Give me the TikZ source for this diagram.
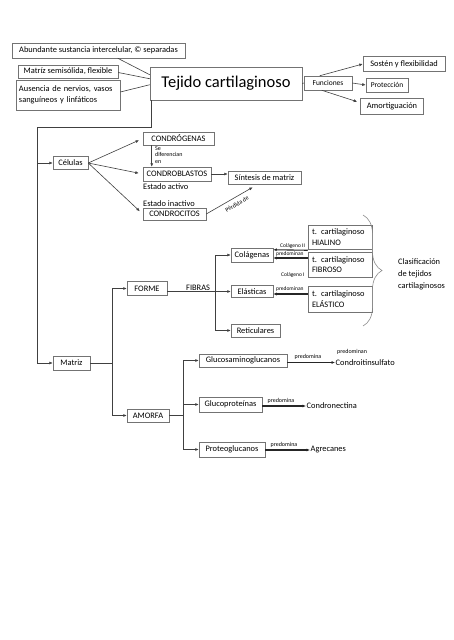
\documentclass[tikz,border=0pt]{standalone}
\usepackage{fontspec}
\setmainfont{Carlito}
\usetikzlibrary{arrows.meta,calc,decorations.pathreplacing}
\begin{document}
\begin{tikzpicture}[x=1pt,y=-1pt,
 bx/.style={draw=black!55, line width=0.5pt, inner sep=1pt, fill=white, font=\fontsize{8.4}{9}\selectfont, anchor=center},
 bx2/.style={bx, align=left, inner xsep=4pt, text width=56pt, font=\fontsize{8.4}{10.5}\selectfont},
 ln/.style={draw=black!75, line width=0.6pt},
 ar/.style={ln, -{Latex[length=3.5pt,width=3pt]}},
 thar/.style={draw=black!85, line width=1.1pt, -{Latex[length=3.5pt,width=3pt]}},
 tinylbl/.style={font=\fontsize{6}{6.8}\selectfont, inner sep=0pt},
 txt/.style={font=\fontsize{8.4}{9}\selectfont, inner sep=0pt},
]
\fill[white] (0,0) rectangle (453,640);
\useasboundingbox (0,0) rectangle (453,640);

% top boxes
\node[bx, minimum width=173, minimum height=15] (abund) at (98.5,50.5) {Abundante sustancia intercelular, © separadas};
\node[bx, minimum width=100, minimum height=13] (matr) at (68,71.5) {Matríz semisólida, flexible};
\node[bx, align=left, inner xsep=3pt, text width=98pt, minimum height=30, font=\fontsize{8.4}{11}\selectfont] (ausen) at (68,95) {Ausencia de nervios, vasos\\sanguíneos y linfáticos};
\node[bx, minimum width=152, minimum height=33, font=\fontsize{16.5}{18}\selectfont] (tej) at (226,83.5) {Tejido cartilaginoso};
\node[bx, minimum width=48, minimum height=14, font=\fontsize{7.5}{8}\selectfont] (func) at (328,83) {Funciones};
\node[bx, minimum width=82, minimum height=15] (sosten) at (404,64) {Sostén y flexibilidad};
\node[bx, minimum width=42, minimum height=14, font=\fontsize{7.5}{8}\selectfont] (protec) at (387,85) {Protección};
\node[bx, minimum width=63, minimum height=16] (amort) at (392,106) {Amortiguación};

\draw[ln] ($(abund.south west)+(106,0)$) -- ($(tej.north west)+(0,8)$);
\draw[ln] ($(matr.east)+(0,1)$) -- ($(tej.north west)+(0,12)$);
\draw[ln] ($(ausen.east)+(0,-3)$) -- ($(tej.north west)+(0,18)$);
\draw[ln] (tej.east) -- (func.west);
\draw[ar] ($(func.north west)+(16,0)$) -- (sosten.west);
\draw[ar] (func.east) -- (protec.west);
\draw[ar] ($(func.south west)+(18,0)$) -- ($(amort.north west)+(-3,4)$);

% cells
\node[bx, minimum width=35, minimum height=13] (cel) at (70.5,163) {Células};
\node[bx, minimum width=71, minimum height=13] (condrog) at (178.5,138.5) {CONDRÓGENAS};
\node[bx, minimum width=68, minimum height=14] (condrob) at (177,174) {CONDROBLASTOS};
\node[bx, minimum width=63, minimum height=12] (condroc) at (174.5,214) {CONDROCITOS};
\node[bx, minimum width=73, minimum height=13] (sint) at (264.5,177.5) {Síntesis de matriz};
\node[txt, anchor=west] (eact) at (143,187) {Estado activo};
\node[txt, anchor=west] (einact) at (143,203.5) {Estado inactivo};
\node[tinylbl, anchor=north west, align=left] (sedif) at (155,146) {Se\\diferencian\\en};

\coordinate (t1) at ($(tej.south west)+(2,0)$);
\coordinate (vx) at (37,127);
\node[bx, minimum width=37, minimum height=14] (matz) at (71.5,363) {Matriz};
\draw[ln] (t1) |- (vx) -- (vx |- matz.west);
\draw[ar] (vx |- cel.west) -- (cel.west);
\draw[ar] (vx |- matz.west) -- (matz.west);

\draw[ar, shorten >=4pt] (cel.east) -- (condrog.west);
\draw[ar, shorten >=4pt] (cel.east) -- (condrob.west);
\draw[ar, shorten >=4pt] (cel.east) -- (condroc.west);
\draw[ar] ($(condrog.south west)+(9,0)$) -- ($(condrob.north west)+(9,0)$);
\draw[ar] (condrob.east) -- (condrob.east -| sint.west);
\coordinate (perd) at ($(sint.south west)+(25,3)$);
\draw[ar] (condroc.east) -- (perd);
\node[tinylbl, rotate=31, anchor=center] (lperd) at (237,204) {Pérdida de};

% fibres
\node[bx, minimum width=40, minimum height=14] (forme) at (147,288.5) {FORME};
\node[bx, minimum width=42, minimum height=14] (col) at (252,255) {Colágenas};
\node[bx, minimum width=42, minimum height=12] (elas) at (252,291.5) {Elásticas};
\node[bx, minimum width=49, minimum height=13] (ret) at (255.5,330.5) {Reticulares};
\node[tinylbl, anchor=south west, font=\fontsize{5.5}{6}\selectfont] (lcol2) at (280,248.5) {Colágeno II};
\node[tinylbl, anchor=south west, font=\fontsize{5.5}{6}\selectfont] (lpred1) at (276,257) {predominan};
\node[tinylbl, anchor=west, font=\fontsize{5.5}{6}\selectfont] (lcol1) at (281,275) {Colágeno I};
\node[tinylbl, anchor=south west, font=\fontsize{5.5}{6}\selectfont] (lpred2) at (276,292) {predominan};
\node[bx2, minimum height=24] (hial) at (340,237) {t. cartilaginoso\\HIALINO};
\node[bx2, minimum height=25] (fibr) at (340,264.5) {t. cartilaginoso\\FIBROSO};
\node[bx2, minimum height=26] (elast) at (340,299) {t. cartilaginoso\\ELÁSTICO};

\coordinate (fx) at (215,0);
\draw[ln] (fx |- col.west) -- (fx |- ret.west);
\draw[ar] (fx |- col.west) -- (col.west);
\draw[ar] (forme.east |- elas.west) -- (elas.west);
\draw[ar] (fx |- ret.west) -- (ret.west);
\node[txt, anchor=south west] (fibras) at (186,290.5) {FIBRAS};

\draw[thar] ($(hial.south west)+(0,1)$) -- ($(col.north east)+(0,2)$);
\draw[thar] ($(fibr.west)+(0,-6.5)$) -- ($(col.east)+(0,3)$);
\draw[thar] ($(elast.west)+(0,-5)$) -- ($(elas.east)+(0,2.5)$);

\draw[black!45, line width=0.6pt, decorate, decoration={brace, amplitude=19pt}] (363,215) -- (363,326);
\node[txt, anchor=west, align=left, font=\fontsize{8.4}{12}\selectfont] (clas) at (398,274) {Clasificación\\de tejidos\\cartilaginosos};

% amorphous
\node[bx, minimum width=42, minimum height=13] (amorfa) at (148,415.5) {AMORFA};
\coordinate (mx) at (112,0);
\draw[ln] (matz.east) -- (mx |- matz.east);
\draw[ln] (mx |- forme.west) -- (mx |- amorfa.west);
\draw[ar] (mx |- forme.west) -- (forme.west);
\draw[ar] (mx |- amorfa.west) -- (amorfa.west);

\node[bx, minimum width=88, minimum height=13] (glucs) at (243,360.5) {Glucosaminoglucanos};
\node[bx, minimum width=63, minimum height=15] (glucp) at (230.5,404.5) {Glucoproteínas};
\node[bx, minimum width=66, minimum height=15] (prot) at (232,449.5) {Proteoglucanos};
\coordinate (ax) at (183,0);
\draw[ln] (amorfa.east) -- (ax |- amorfa.east);
\draw[ln] (ax |- glucs.west) -- (ax |- prot.west);
\draw[ar] (ax |- glucs.west) -- (glucs.west);
\draw[ar] (ax |- glucp.west) -- (glucp.west);
\draw[ar] (ax |- prot.west) -- (prot.west);

\node[txt, anchor=west, inner sep=0.5pt] (condroi) at (335,362.5) {Condroitinsulfato};
\node[tinylbl, anchor=west] (lpredn) at (337,352) {predominan};
\node[txt, anchor=west, inner sep=0.5pt] (condron) at (306,406) {Condronectina};
\node[txt, anchor=west, inner sep=0.5pt] (agrec) at (310,450) {Agrecanes};

\coordinate (g1) at ($(glucs.east)+(0,2)$);
\coordinate (g2) at ($(glucp.east)+(0,1.5)$);
\coordinate (g3) at ($(prot.east)+(0,0.5)$);
\draw[thar] (g1) -- (condroi.west);
\draw[thar] (g2) -- (condron.west);
\draw[thar] (g3) -- (agrec.west);
\node[tinylbl, anchor=south] (lpg1) at (308,360) {predomina};
\node[tinylbl, anchor=south] (lpg2) at (281,404) {predomina};
\node[tinylbl, anchor=south] (lpg3) at (284,448) {predomina};
\end{tikzpicture}
\end{document}
